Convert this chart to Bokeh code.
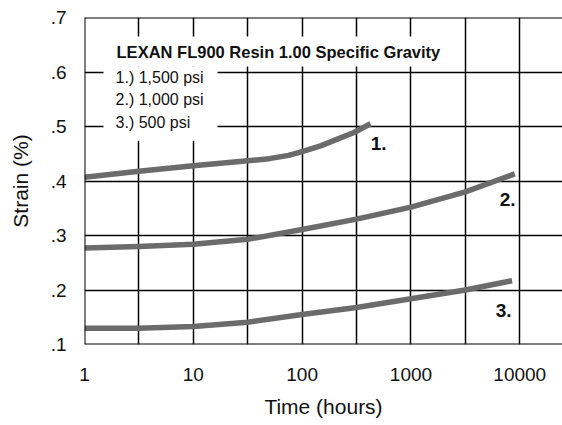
from bokeh.plotting import figure
from bokeh.models import Range1d, FixedTicker, BoxAnnotation, Label, Span
from bokeh.embed import file_html
from bokeh.resources import INLINE

# ---- data ----
t1 = [1, 3.16, 10, 31.6, 50, 75, 100, 150, 200, 300, 425]
s1 = [0.407, 0.418, 0.428, 0.437, 0.441, 0.447, 0.454, 0.465, 0.475, 0.489, 0.505]

t2 = [1, 3.16, 10, 31.6, 100, 316, 1000, 3160, 9000]
s2 = [0.277, 0.280, 0.284, 0.293, 0.311, 0.330, 0.352, 0.380, 0.413]

t3 = [1, 3.16, 10, 31.6, 100, 316, 1000, 3160, 8500]
s3 = [0.130, 0.130, 0.133, 0.141, 0.155, 0.168, 0.184, 0.200, 0.217]

x_ticks = [1, 10, 100, 1000, 10000]
x_tick_labels = ["1", "10", "100", "1000", "10000"]
x_grid = [1, 3.162, 10, 31.62, 100, 316.2, 1000, 3162, 10000]
y_ticks = [0.1, 0.2, 0.3, 0.4, 0.5, 0.6, 0.7]
y_tick_labels = [".1", ".2", ".3", ".4", ".5", ".6", ".7"]

legend_title = "LEXAN FL900 Resin 1.00 Specific Gravity"
legend_items = ["1.) 1,500 psi", "2.) 1,000 psi", "3.) 500 psi"]
curve_tags = ["1.", "2.", "3."]

FONT = "'Liberation Sans', Arial, sans-serif"
LINE = "#6b6b6b"
TXT = "#111111"

p = figure(x_axis_type="log", x_range=Range1d(1, 24700), y_range=Range1d(0.1, 0.7),
           frame_width=478, frame_height=327,
           min_border_left=84, min_border_right=0, min_border_top=17, min_border_bottom=81,
           output_backend="svg", toolbar_location=None)
p.outline_line_color = None
p.background_fill_color = "white"
p.border_fill_color = "white"

# grids
p.xgrid.ticker = FixedTicker(ticks=x_grid)
p.ygrid.ticker = FixedTicker(ticks=y_ticks)
for g in (p.xgrid[0], p.ygrid[0]):
    g.grid_line_color = "black"
    g.grid_line_width = 1.5
    g.grid_line_alpha = 1.0

# frame edges (left, bottom, top)
p.add_layout(Span(location=x_ticks[0], dimension="height", line_color="black", line_width=2))
p.add_layout(Span(location=y_ticks[0], dimension="width", line_color="black", line_width=2))
p.add_layout(Span(location=y_ticks[-1], dimension="width", line_color="black", line_width=2))

# axes
p.xaxis.ticker = FixedTicker(ticks=x_ticks)
p.xaxis.major_label_overrides = dict(zip(x_ticks, x_tick_labels))
p.yaxis.ticker = FixedTicker(ticks=y_ticks)
p.yaxis.major_label_overrides = dict(zip(y_ticks, y_tick_labels))
for ax in (p.xaxis[0], p.yaxis[0]):
    ax.axis_line_color = None
    ax.major_tick_line_color = None
    ax.minor_tick_line_color = None
    ax.major_tick_out = 0
    ax.major_tick_in = 0
    ax.major_label_text_font = FONT
    ax.major_label_text_font_size = "19px"
    ax.major_label_text_color = TXT
    ax.axis_label_text_font = FONT
    ax.axis_label_text_font_size = "21px"
    ax.axis_label_text_font_style = "normal"
    ax.axis_label_text_color = TXT
p.xaxis.axis_label = "Time (hours)"
p.yaxis.axis_label = "Strain (%)"
p.xaxis.major_label_standoff = 23
p.xaxis.axis_label_standoff = 11
p.yaxis.major_label_standoff = 18
p.yaxis.axis_label_standoff = 16

# curves
for t, s in ((t1, s1), (t2, s2), (t3, s3)):
    p.line(t, s, line_color=LINE, line_width=5.5, line_cap="butt", line_join="round")

# legend boxes (white background over grid)
p.add_layout(BoxAnnotation(left=1.66, right=2080, top=0.665, bottom=0.610,
                           fill_color="white", fill_alpha=1.0, line_color=None))
p.add_layout(BoxAnnotation(left=1.495, right=16.7, top=0.610, bottom=0.474,
                           fill_color="white", fill_alpha=1.0, line_color=None))

p.add_layout(Label(x=1.97, y=0.6376, text=legend_title, text_font=FONT,
                   text_font_size="16.5px", text_font_style="bold", text_color=TXT,
                   text_baseline="middle", text_align="left"))
for txt, yy in zip(legend_items, [0.590, 0.5495, 0.507]):
    p.add_layout(Label(x=1.93, y=yy, text=txt, text_font=FONT,
                       text_font_size="16px", text_color=TXT,
                       text_baseline="middle", text_align="left"))

for txt, xx, yy in zip(curve_tags, [504, 7730, 7100], [0.469, 0.366, 0.162]):
    p.add_layout(Label(x=xx, y=yy, text=txt, text_font=FONT,
                       text_font_size="19px", text_font_style="bold", text_color=TXT,
                       text_baseline="middle", text_align="center"))

open("out.html", "w").write(file_html(p, INLINE))
